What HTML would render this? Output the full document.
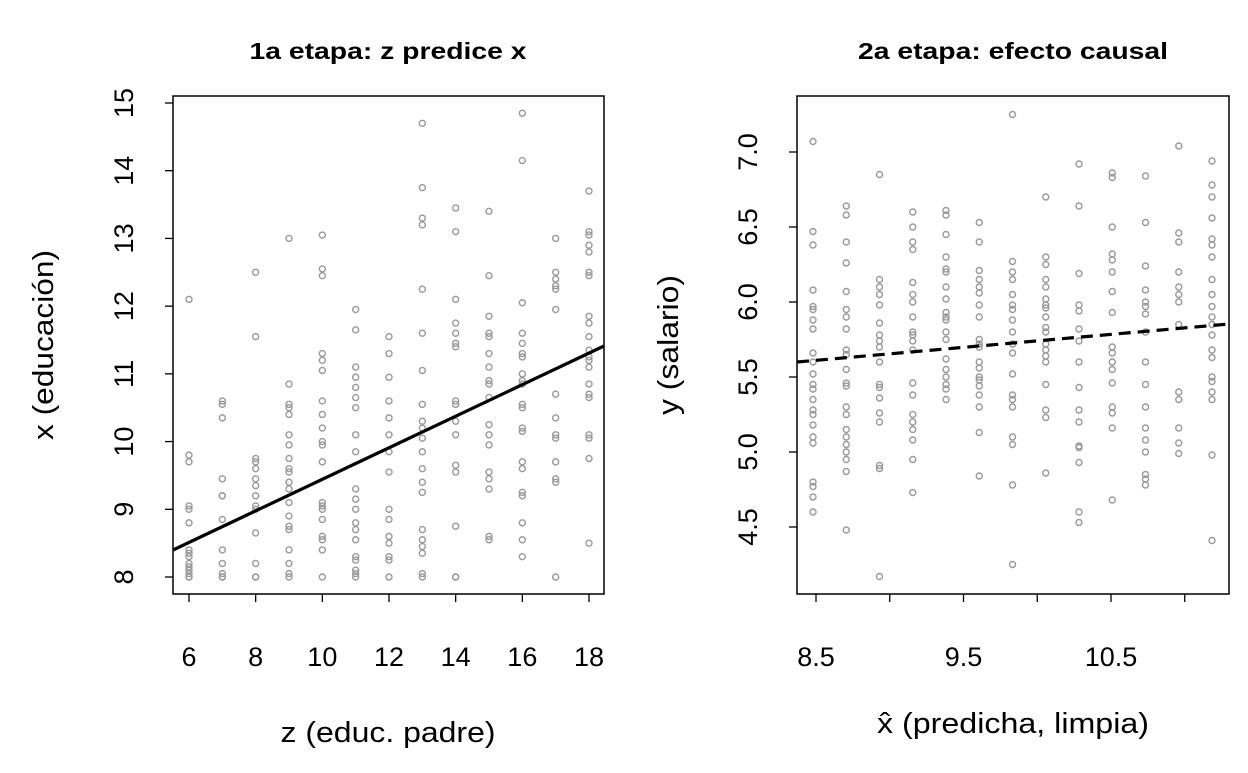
<!DOCTYPE html>
<html><head><meta charset="utf-8"><style>
html,body{margin:0;padding:0;background:#fff;}
svg text{font-family:"Liberation Sans",Arial,sans-serif;fill:#000;}
</style></head><body>
<svg id="s" width="1248" height="768" xmlns="http://www.w3.org/2000/svg">
<rect width="1248" height="768" fill="#fff"/>
<g id="g"></g>
<rect x="173" y="96" width="431" height="498" fill="none" stroke="#000" stroke-width="1.5"/>
<rect x="797" y="96" width="432" height="498" fill="none" stroke="#000" stroke-width="1.5"/>
<text x="388" y="59" font-size="23" font-weight="bold" text-anchor="middle" textLength="277" lengthAdjust="spacingAndGlyphs">1a etapa: z predice x</text>
<text x="1013" y="59" font-size="23" font-weight="bold" text-anchor="middle" textLength="310" lengthAdjust="spacingAndGlyphs">2a etapa: efecto causal</text>
<text x="388" y="742" font-size="29" text-anchor="middle" textLength="215" lengthAdjust="spacingAndGlyphs">z (educ. padre)</text>
<text x="1013" y="733" font-size="29" text-anchor="middle" textLength="272" lengthAdjust="spacingAndGlyphs">x̂ (predicha, limpia)</text>
<text transform="translate(53,345) rotate(-90)" font-size="29" text-anchor="middle" textLength="190" lengthAdjust="spacingAndGlyphs">x (educación)</text>
<text transform="translate(678,345) rotate(-90)" font-size="29" text-anchor="middle" textLength="140" lengthAdjust="spacingAndGlyphs">y (salario)</text>
</svg>
<script>
const NS="http://www.w3.org/2000/svg",g=document.getElementById("g");
function el(t,a,txt){const e=document.createElementNS(NS,t);for(const k in a)e.setAttribute(k,a[k]);if(txt!==undefined)e.textContent=txt;g.appendChild(e);return e;}
const LX=x=>189+(x-6)*(400/12), LY=y=>577-(y-8)*(474/7);
const L={6:[12.1,9.8,9.7,9.05,9.0,8.8,8.4,8.35,8.3,8.2,8.15,8.05,8.0,8.0,8.1],
7:[10.6,10.55,10.35,9.45,9.2,9.2,8.85,8.4,8.2,8.05,8.0,8.0],
8:[12.5,11.55,9.75,9.7,9.6,9.45,9.35,9.2,9.05,9.0,8.65,8.2,8.0,8.0],
9:[13.0,10.85,10.55,10.5,10.4,10.1,9.95,9.75,9.6,9.55,9.4,9.3,9.1,8.9,8.75,8.7,8.4,8.2,8.05,8.0],
10:[13.05,12.55,12.45,11.3,11.2,11.05,10.6,10.4,10.2,10.0,9.95,9.7,9.1,9.05,9.0,8.85,8.6,8.55,8.4,8.0],
11:[11.95,11.65,11.1,10.95,10.8,10.65,10.5,10.1,9.85,9.3,9.15,9.0,8.8,8.7,8.55,8.3,8.25,8.1,8.05,8.0],
12:[11.55,11.3,10.95,10.6,10.35,10.1,9.85,9.55,9.0,8.85,8.6,8.5,8.3,8.25,8.0],
13:[14.7,13.75,13.3,13.2,12.25,11.6,11.05,10.55,10.3,10.2,10.05,9.85,9.6,9.4,9.25,8.7,8.55,8.45,8.35,8.05,8.0],
14:[13.45,13.1,12.1,11.75,11.6,11.45,11.4,10.6,10.55,10.3,10.1,9.65,9.55,8.75,8.0,8.0],
15:[13.4,12.45,11.85,11.6,11.55,11.3,11.1,10.9,10.85,10.65,10.25,10.1,9.95,9.55,9.45,9.3,8.6,8.55],
16:[14.85,14.15,12.05,11.6,11.45,11.3,11.25,11.0,10.9,10.85,10.55,10.5,10.2,10.15,9.7,9.6,9.25,9.2,8.8,8.55,8.3],
17:[13.0,12.5,12.4,12.3,12.25,11.95,10.7,10.35,10.1,10.05,9.7,9.45,9.4,8.0],
18:[13.7,13.1,13.05,12.9,12.8,12.5,12.45,11.85,11.75,11.55,11.35,11.25,11.2,11.1,10.85,10.7,10.65,10.1,10.05,9.75,8.5]};
for(const k in L)for(const v of L[k])el("circle",{cx:LX(+k),cy:LY(v),r:3,fill:"none",stroke:"#999","stroke-width":1.4});
el("line",{x1:173,y1:550,x2:604,y2:346,stroke:"#000","stroke-width":3.2});
for(let x=6;x<=18;x+=2){el("line",{x1:LX(x),y1:594,x2:LX(x),y2:602,stroke:"#000","stroke-width":1.3});el("text",{x:LX(x),y:666,"font-size":27,"text-anchor":"middle"},x);}
for(let y=8;y<=15;y++){el("line",{x1:165,y1:LY(y),x2:173,y2:LY(y),stroke:"#000","stroke-width":1.3});el("text",{transform:`translate(133,${LY(y)}) rotate(-90)`,"font-size":27,"text-anchor":"middle"},y);}
const RX=x=>816+(x-8.5)*147.5, RY=y=>527-(y-4.5)*150;
const R=[[7.07,6.47,6.38,6.08,5.97,5.95,5.88,5.82,5.66,5.6,5.52,5.45,5.42,5.35,5.28,5.25,5.18,5.1,5.06,4.8,4.77,4.7,4.6],
[6.64,6.58,6.4,6.26,6.07,5.95,5.9,5.82,5.68,5.65,5.55,5.46,5.44,5.3,5.25,5.15,5.1,5.05,5.0,4.95,4.87,4.48],
[6.85,6.15,6.1,6.05,5.98,5.86,5.78,5.74,5.7,5.6,5.45,5.43,5.36,5.26,5.2,4.91,4.89,4.17],
[6.6,6.5,6.4,6.35,6.13,6.05,6.0,5.9,5.8,5.78,5.74,5.68,5.46,5.38,5.25,5.2,5.15,5.08,4.95,4.73],
[6.61,6.58,6.45,6.3,6.22,6.2,6.1,6.02,5.93,5.9,5.88,5.8,5.75,5.62,5.55,5.5,5.45,5.42,5.35],
[6.53,6.4,6.21,6.15,6.1,6.06,5.98,5.9,5.75,5.72,5.7,5.6,5.56,5.5,5.48,5.44,5.38,5.3,5.13,4.84],
[7.25,6.27,6.2,6.15,6.05,5.98,5.95,5.88,5.8,5.72,5.66,5.52,5.38,5.35,5.3,5.1,5.05,4.78,4.25],
[6.7,6.3,6.25,6.15,6.1,6.02,5.98,5.96,5.9,5.83,5.8,5.72,5.68,5.64,5.6,5.45,5.28,5.23,4.86],
[6.92,6.64,6.19,5.98,5.94,5.82,5.74,5.6,5.43,5.28,5.2,5.04,5.03,4.93,4.6,4.53],
[6.86,6.83,6.5,6.32,6.28,6.2,6.07,5.93,5.7,5.66,5.6,5.55,5.46,5.3,5.26,5.16,4.68],
[6.84,6.53,6.24,6.08,6.0,5.97,5.92,5.8,5.6,5.45,5.3,5.16,5.08,5.0,4.85,4.82,4.78],
[7.04,6.46,6.4,6.2,6.1,6.05,6.0,5.85,5.4,5.35,5.16,5.06,4.99],
[6.94,6.78,6.7,6.56,6.42,6.38,6.3,6.15,6.05,5.97,5.9,5.85,5.78,5.68,5.63,5.5,5.47,5.4,5.35,4.98,4.41]];
R.forEach((c,i)=>{const cx=813+i*33.25;for(const v of c)el("circle",{cx:cx,cy:RY(v),r:3,fill:"none",stroke:"#999","stroke-width":1.4});});
el("line",{x1:797,y1:362,x2:1229,y2:324,stroke:"#000","stroke-width":3.2,"stroke-dasharray":"12,7"});
[8.5,9,9.5,10,10.5,11].forEach(x=>{el("line",{x1:RX(x),y1:594,x2:RX(x),y2:602,stroke:"#000","stroke-width":1.3});if(x==8.5||x==9.5||x==10.5)el("text",{x:RX(x),y:666,"font-size":27,"text-anchor":"middle"},x.toFixed(1));});
[4.5,5,5.5,6,6.5,7].forEach(y=>{el("line",{x1:789,y1:RY(y),x2:797,y2:RY(y),stroke:"#000","stroke-width":1.3});el("text",{transform:`translate(757,${RY(y)}) rotate(-90)`,"font-size":27,"text-anchor":"middle"},y.toFixed(1));});
</script>
</body></html>
